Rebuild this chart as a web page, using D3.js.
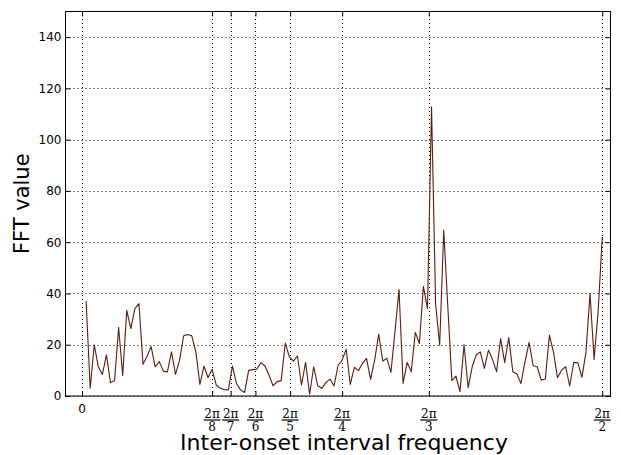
<!DOCTYPE html>
<html>
<head>
<meta charset="utf-8">
<script src="https://cdn.jsdelivr.net/npm/d3@7"></script>
<style>
  body { margin: 0; background: #fff; }
  svg { display: block; }
</style>
</head>
<body>
<div id="chart"></div>
<script>
// FFT magnitudes for bins k = 1..128 of a 256-point transform
const nBins = 256;
const fftValues = [
  37, 3, 20, 11.4, 8.4, 16, 5.2, 6, 26.7, 8,
  33.4, 26.3, 34.1, 36, 12.4, 15.5, 19.3, 11.4, 13.4, 9.7,
  9.4, 17.2, 8.4, 14, 23.5, 24, 23.5, 17.2, 4.5, 11.7,
  7.1, 10.4, 4.3, 3, 2.5, 2.4, 11.7, 4.9, 2.4, 1.4,
  10, 10.3, 10.5, 13, 11.7, 8.2, 4, 5.6, 6, 20.7,
  15.3, 13.6, 15.6, 4.3, 13.1, 0.7, 11.4, 4, 3, 5.2,
  6.6, 3.9, 12, 14, 18.2, 4.5, 11.2, 9.9, 12.7, 14.7,
  6.5, 14, 24.1, 13.6, 14.7, 9.2, 25, 41.5, 4.9, 13.1,
  9.5, 24.8, 20.5, 42.8, 34.1, 112.8, 36, 19.8, 64.6, 35,
  6, 7.8, 1.7, 20, 3.2, 11.4, 16, 17.2, 10.8, 17.9,
  14.3, 9.5, 22.4, 13, 22.8, 9.5, 8.6, 4.9, 13.4, 20.9,
  11.8, 11.4, 6.2, 6.6, 23.7, 17.2, 7.1, 10.1, 11.4, 3.9,
  13.1, 13, 7.3, 17, 40, 14.3, 33, 62
];
const yTicks = [0, 20, 40, 60, 80, 100, 120, 140];
const xTickDivisors = [8, 7, 6, 5, 4, 3, 2];   // ticks at 2π/n, plus 0

const width = 621;
const height = 455;
const margin = { top: 11.5, right: 10.5, bottom: 59, left: 65.5 };

const data = fftValues.map((v, i) => ({ f: (i + 1) * 2 * Math.PI / nBins, v: v }));

const svg = d3.select("#chart")
    .append("svg")
    .attr("width", width)
    .attr("height", height);

const x = d3.scaleLinear()
    .domain([-0.1, Math.PI + 0.05])
    .range([margin.left, width - margin.right]);

const y = d3.scaleLinear()
    .domain([0, 150])
    .range([height - margin.bottom, margin.top]);

const xTickVals = [0].concat(xTickDivisors.map(n => 2 * Math.PI / n));

// Grid
const grid = svg.append("g")
    .attr("stroke", "#000")
    .attr("stroke-width", 1)
    .attr("stroke-dasharray", "1,3");

grid.selectAll(".gx")
    .data(xTickVals)
    .enter()
    .append("line")
    .attr("x1", d => Math.round(x(d)) + 0.5)
    .attr("x2", d => Math.round(x(d)) + 0.5)
    .attr("y1", y.range()[0])
    .attr("y2", y.range()[1]);

grid.selectAll(".gy")
    .data(yTicks)
    .enter()
    .append("line")
    .attr("x1", x.range()[0])
    .attr("x2", x.range()[1])
    .attr("y1", d => Math.round(y(d)) + 0.5)
    .attr("y2", d => Math.round(y(d)) + 0.5);

// Line
const line = d3.line()
    .x(d => x(d.f))
    .y(d => y(d.v));

svg.append("path")
    .datum(data)
    .attr("fill", "none")
    .attr("stroke", "#5a1b0c")
    .attr("stroke-width", 1.1)
    .attr("stroke-linejoin", "round")
    .attr("d", line);

// Frame
svg.append("rect")
    .attr("x", x.range()[0])
    .attr("y", y.range()[1])
    .attr("width", x.range()[1] - x.range()[0])
    .attr("height", y.range()[0] - y.range()[1])
    .attr("fill", "none")
    .attr("stroke", "#000")
    .attr("stroke-width", 1);

// Y axis (ticks inward) and right-side ticks
svg.append("g")
    .attr("transform", `translate(${x.range()[0]},0)`)
    .call(d3.axisLeft(y).tickValues(yTicks).tickSize(-5).tickPadding(4))
    .call(g => g.select(".domain").remove())
    .selectAll("text")
    .style("font-family", "DejaVu Sans")
    .style("font-size", "12px")
    .attr("fill", "#000");

svg.append("g")
    .attr("transform", `translate(${x.range()[1]},0)`)
    .call(d3.axisRight(y).tickValues(yTicks).tickSize(-5).tickFormat(""))
    .call(g => g.select(".domain").remove());

// X ticks bottom and top (inward)
svg.append("g")
    .attr("transform", `translate(0,${y.range()[0]})`)
    .call(d3.axisBottom(x).tickValues(xTickVals).tickSize(-5).tickFormat(""))
    .call(g => g.select(".domain").remove());

svg.append("g")
    .attr("transform", `translate(0,${y.range()[1]})`)
    .call(d3.axisTop(x).tickValues(xTickVals).tickSize(-5).tickFormat(""))
    .call(g => g.select(".domain").remove());

// X tick labels: 0 and fractions 2π/n
const base = y.range()[0];
svg.append("text")
    .attr("x", x(0))
    .attr("y", base + 17)
    .attr("text-anchor", "middle")
    .style("font-family", "DejaVu Sans")
    .style("font-size", "12px")
    .text("0");

const frac = svg.append("g")
    .selectAll(".frac")
    .data(xTickDivisors)
    .enter()
    .append("g")
    .attr("transform", n => `translate(${x(2 * Math.PI / n)},${base})`)
    .style("font-family", "DejaVu Serif")
    .style("font-size", "12px");

frac.append("text")
    .attr("y", 21.5)
    .attr("text-anchor", "middle")
    .text("2π");

frac.append("line")
    .attr("x1", -8.5)
    .attr("x2", 8.5)
    .attr("y1", 24)
    .attr("y2", 24)
    .attr("stroke", "#000")
    .attr("stroke-width", 1.2);

frac.append("text")
    .attr("y", 34.5)
    .attr("text-anchor", "middle")
    .text(n => n);

// Axis titles
svg.append("text")
    .attr("x", 344)
    .attr("y", 450)
    .attr("text-anchor", "middle")
    .style("font-family", "DejaVu Sans")
    .style("font-size", "22px")
    .text("Inter-onset interval frequency");

svg.append("text")
    .attr("transform", `translate(29,${(y.range()[0] + y.range()[1]) / 2}) rotate(-90)`)
    .attr("text-anchor", "middle")
    .style("font-family", "DejaVu Sans")
    .style("font-size", "21px")
    .text("FFT value");
</script>
</body>
</html>
